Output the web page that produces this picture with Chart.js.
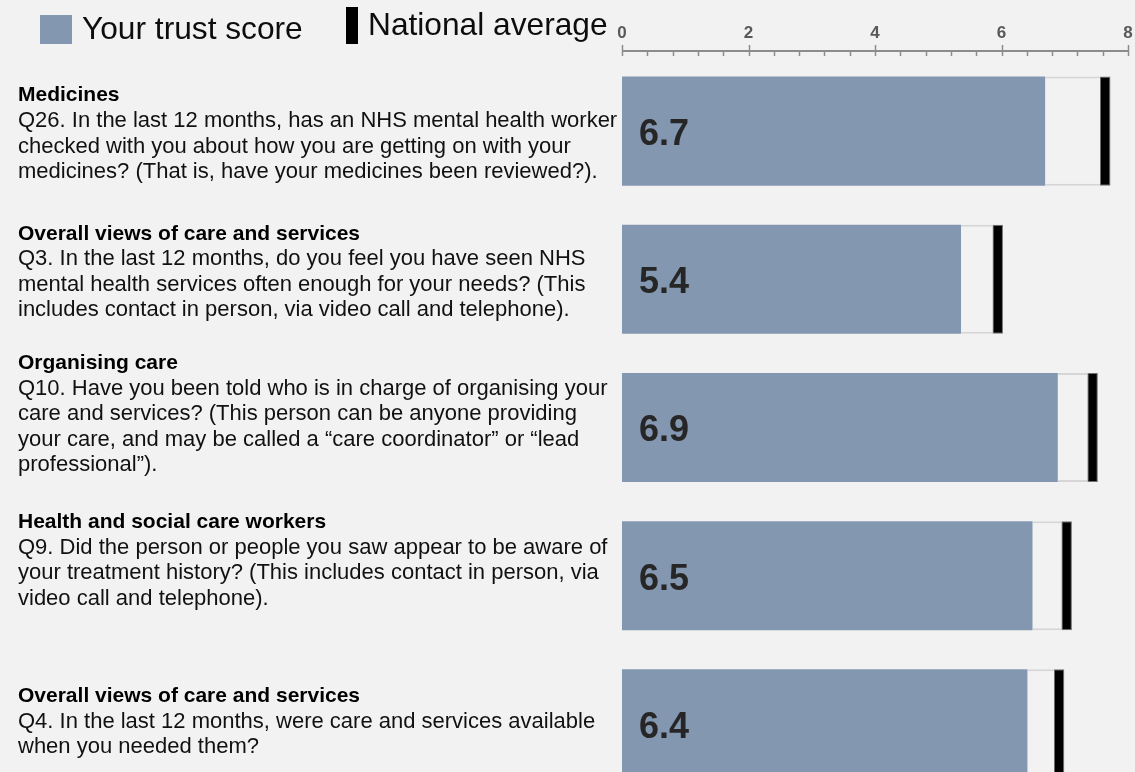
<!DOCTYPE html>
<html><head><meta charset="utf-8">
<script src="https://cdn.jsdelivr.net/npm/chart.js@4"></script>
<style>
html,body{margin:0;padding:0;background:#f2f2f2;overflow:hidden;}
#wrap{position:relative;width:1135px;height:820px;}
canvas{display:block;}
</style></head><body>
<div id="wrap"><canvas id="c" width="1135" height="820"></canvas></div>
<script>
// ---- data ----
const categories = ['Medicines','Overall views of care and services','Organising care','Health and social care workers','Overall views of care and services'];
const questions = [
 ['Q26. In the last 12 months, has an NHS mental health worker','checked with you about how you are getting on with your','medicines? (That is, have your medicines been reviewed?).'],
 ['Q3. In the last 12 months, do you feel you have seen NHS','mental health services often enough for your needs? (This','includes contact in person, via video call and telephone).'],
 ['Q10. Have you been told who is in charge of organising your','care and services? (This person can be anyone providing','your care, and may be called a \u201ccare coordinator\u201d or \u201clead','professional\u201d).'],
 ['Q9. Did the person or people you saw appear to be aware of','your treatment history? (This includes contact in person, via','video call and telephone).'],
 ['Q4. In the last 12 months, were care and services available','when you needed them?']
];
const trustScores = [6.69, 5.36, 6.89, 6.49, 6.41];
const nationalAverages = [7.64, 5.94, 7.44, 7.03, 6.91];
const axisMin = 0, axisMax = 8, axisStep = 0.4, labelEvery = 2;
const legendLabels = ['Your trust score', 'National average'];

// ---- style ----
const FONT = '"Liberation Sans", Arial, Helvetica, sans-serif';
const BAR_BLUE = '#8497b0';
const MARK_HALF = 0.083;
const titleOffsets = [-35.5, -45.5, -64.5, -53.5, -27.5];
const LINE_H = 25.5;

const overlay = {
  id: 'overlay',
  afterDraw(chart) {
    const ctx = chart.ctx;
    const xs = chart.scales.x, ys = chart.scales.y;
    const ca = chart.chartArea;
    ctx.save();
    // axis ruler
    const ay = ca.top - 6;
    ctx.strokeStyle = '#8c8c8c';
    ctx.lineWidth = 2;
    ctx.beginPath();
    ctx.moveTo(xs.getPixelForValue(axisMin), ay);
    ctx.lineTo(xs.getPixelForValue(axisMax), ay);
    ctx.stroke();
    ctx.lineWidth = 1.5;
    xs.ticks.forEach(t => {
      const px = Math.round(xs.getPixelForValue(t.value)) + 0.5;
      const major = Math.abs(t.value / labelEvery - Math.round(t.value / labelEvery)) < 1e-6;
      ctx.beginPath();
      ctx.moveTo(px, major ? ay - 6 : ay);
      ctx.lineTo(px, ay + 5);
      ctx.stroke();
    });
    // legend
    ctx.fillStyle = BAR_BLUE;
    ctx.fillRect(40, 15, 32, 29);
    ctx.fillStyle = '#000';
    ctx.fillRect(346, 7, 12, 37);
    ctx.fillStyle = '#0d0d0d';
    ctx.font = '31.7px ' + FONT;
    ctx.textBaseline = 'alphabetic';
    ctx.textAlign = 'left';
    ctx.fillText(legendLabels[0], 82, 39);
    ctx.fillText(legendLabels[1], 368, 35);
    // left text blocks
    categories.forEach((cat, i) => {
      const cy = ys.getPixelForValue(i);
      const ty = cy + titleOffsets[i];
      ctx.textBaseline = 'middle';
      ctx.fillStyle = '#000';
      ctx.font = 'bold 21px ' + FONT;
      ctx.fillText(cat, 18, ty);
      ctx.font = '22px ' + FONT;
      ctx.fillStyle = '#111';
      questions[i].forEach((ln, k) => ctx.fillText(ln, 18, ty + LINE_H * (k + 1)));
      // value label
      ctx.font = 'bold 36px ' + FONT;
      ctx.fillStyle = '#262626';
      ctx.fillText(trustScores[i].toFixed(1), xs.getPixelForValue(axisMin) + 17, cy + 4);
    });
    ctx.restore();
  }
};

new Chart(document.getElementById('c'), {
  type: 'bar',
  data: {
    labels: categories,
    datasets: [
      { label: legendLabels[0], data: trustScores, backgroundColor: BAR_BLUE, borderWidth: 0, grouped: false },
      { label: 'gap', data: trustScores.map((s, i) => [s, nationalAverages[i] - MARK_HALF]),
        backgroundColor: '#f2f2f2', borderColor: '#d6d6d6', borderWidth: {top: 2, bottom: 2, left: 0, right: 0},
        borderSkipped: false, grouped: false },
      { label: legendLabels[1], data: nationalAverages.map(n => [n - MARK_HALF, n + MARK_HALF]),
        backgroundColor: '#000', borderColor: '#6f6f6f', borderWidth: 1, borderSkipped: false, grouped: false }
    ]
  },
  options: {
    indexAxis: 'y',
    responsive: false,
    animation: false,
    devicePixelRatio: 1,
    barPercentage: 0.736,
    categoryPercentage: 1,
    layout: { padding: { left: 622, right: 7, top: 0, bottom: 22 } },
    plugins: { legend: { display: false }, tooltip: { enabled: false } },
    scales: {
      x: {
        position: 'top', min: axisMin, max: axisMax,
        grid: { display: false, drawTicks: false },
        border: { display: false },
        ticks: {
          stepSize: axisStep, autoSkip: false, maxRotation: 0, minRotation: 0, padding: 13,
          color: '#595959', font: { family: FONT, size: 17, weight: 'bold' },
          callback: v => { const r = Math.round(v); return (Math.abs(v - r) < 1e-6 && r % labelEvery === 0) ? String(r) : ''; }
        },
        afterFit: s => { s.height = 57; s.paddingLeft = 0; s.paddingRight = 0; }
      },
      y: { display: false }
    }
  },
  plugins: [overlay]
});
</script>
</body></html>
